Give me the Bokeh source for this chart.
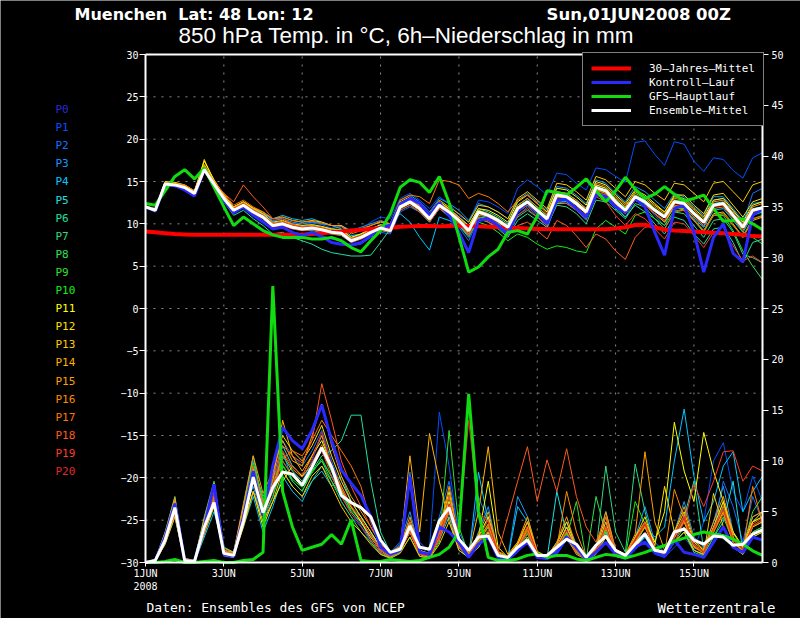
from bokeh.plotting import figure
from bokeh.models import Range1d, LinearAxis, FixedTicker, Label, Legend, LegendItem
from bokeh.embed import file_html
from bokeh.resources import INLINE

# ---------------- data ----------------
hours = list(range(0, 384, 6))  # forecast hours, 6-hourly
tick_hours = [0, 48, 96, 144, 192, 240, 288, 336]
tick_labels = ["1JUN\n2008", "3JUN", "5JUN", "7JUN", "9JUN", "11JUN", "13JUN", "15JUN"]
temp_ticks = [-30, -25, -20, -15, -10, -5, 0, 5, 10, 15, 20, 25, 30]
precip_ticks = [0, 5, 10, 15, 20, 25, 30, 35, 40, 45, 50]
member_names = ["P0", "P1", "P2", "P3", "P4", "P5", "P6", "P7", "P8", "P9", "P10",
                "P11", "P12", "P13", "P14", "P15", "P16", "P17", "P18", "P19", "P20"]
member_colors = ["#2a2ad8", "#0050ff", "#1870ff", "#1898ff", "#00c8ff", "#20e0e0", "#20e0a0",
                 "#30d880", "#30e050", "#30e030", "#10f010", "#ffff00", "#ffe000", "#ffc800",
                 "#ffb400", "#ffa000", "#ff8c00", "#ff7800", "#ff5a1e", "#ff3c28", "#e02828"]
legend_names = ["30–Jahres–Mittel", "Kontroll–Lauf", "GFS–Hauptlauf", "Ensemble–Mittel"]

temp_mean = [12.0,11.6,14.7,14.6,14.3,13.6,16.4,14.7,13.0,11.6,12.2,11.4,10.8,9.8,10.0,9.6,
             9.4,9.5,9.3,9.0,8.9,8.0,8.4,9.0,9.5,9.2,12.0,12.6,11.8,10.6,12.2,11.4,
             10.4,9.2,11.4,11.0,10.4,9.6,11.8,12.6,11.6,10.6,13.4,13.2,12.4,11.4,14.3,13.9,
             12.6,11.6,13.2,12.6,11.6,10.8,12.6,12.4,11.2,10.2,12.2,12.4,11.0,9.6,11.6,11.9]
temp_gfs = [12.4,12.2,13.9,15.6,16.4,15.3,16.6,14.3,12.0,9.8,10.8,10.0,9.2,8.7,8.4,8.4,
            8.4,8.2,8.2,8.4,8.0,7.2,6.7,8.0,9.2,11.2,14.3,15.2,14.9,13.7,15.6,12.5,
            8.5,4.3,4.9,6.1,7.0,9.0,9.2,8.8,10.9,13.9,13.7,13.4,14.3,15.3,13.9,12.6,
            13.9,15.5,14.1,13.0,13.5,14.4,13.5,12.7,13.0,13.4,11.8,10.3,10.4,10.6,10.0,9.3]
temp_ctrl = [12.0,11.5,14.6,14.5,14.0,13.3,16.5,14.5,12.8,11.3,12.0,11.0,10.2,9.4,9.6,9.0,
             8.6,9.0,8.5,7.8,7.6,7.5,7.8,8.6,9.6,9.8,12.3,13.0,12.4,11.0,12.5,11.0,
             9.0,6.6,10.4,10.6,9.8,8.8,11.5,12.6,11.4,10.0,12.8,12.9,11.8,10.8,13.4,13.2,
             12.0,11.4,13.0,12.0,9.0,6.3,11.8,12.2,9.0,4.3,8.4,10.0,6.5,5.5,11.0,11.8]
temp_clim = [9.1,9.0,8.9,8.8,8.75,8.7,8.7,8.7,8.7,8.7,8.7,8.7,8.7,8.7,8.7,8.7,
             8.7,8.8,8.9,9.0,9.1,9.2,9.3,9.4,9.5,9.55,9.65,9.7,9.75,9.75,9.7,9.75,
             9.8,9.75,9.7,9.65,9.6,9.55,9.5,9.45,9.4,9.4,9.35,9.35,9.35,9.35,9.35,9.35,
             9.45,9.6,9.85,9.9,9.6,9.3,9.2,9.15,9.1,9.0,8.95,8.9,8.8,8.7,8.55,8.5]

precip_mean = [0,0.2,2.2,5.4,0.2,0.1,3.5,5.9,0.9,0.7,4.1,8.4,4.9,7.4,8.9,8.7,
               7.6,9.4,11.3,9.4,6.6,5.9,5.4,4.5,2.2,1.0,1.3,3.6,1.5,1.3,4.1,5.4,
               2.3,1.2,2.5,2.6,0.7,0.5,1.5,2.2,0.7,0.7,1.5,2.3,1.8,0.5,1.7,2.6,
               1.2,0.7,1.8,2.8,1.2,1.0,3.0,3.3,2.2,1.8,2.6,2.5,1.7,1.8,2.8,3.2]
precip_gfs = [0,0,0.1,0.3,0,0,0.1,0.2,0,0,0.2,0.3,1.0,27.2,7.0,3.5,
              1.2,1.5,1.8,2.75,1.8,4.2,0.2,0.1,0.1,0.3,0.2,0.1,0.2,0.5,0.8,1.5,
              3.0,16.6,5.0,0.5,0.2,0.2,0.35,0.7,0.85,0.5,0.7,0.7,0.35,0.2,0.5,0.8,
              0.7,0.45,0.7,1.0,1.35,1.67,2.1,2.4,2.75,3.0,2.8,2.65,2.3,1.8,1.15,0.7]
precip_ctrl = [0,0.2,2.5,5.8,0.2,0.1,3.5,7.7,0.8,0.6,4.5,9.0,4.6,9.5,13.3,12.0,
               11.2,13.0,15.5,12.0,9.1,7.8,6.6,4.5,1.5,0.8,1.2,8.4,1.0,0.8,3.5,3.0,
               2.0,0.5,1.8,2.5,0.5,0.3,1.2,2.0,0.5,0.4,1.0,2.5,1.5,0.3,1.0,2.0,
               0.8,0.5,1.5,2.0,1.0,0.6,2.2,1.0,0.8,0.5,2.0,3.5,1.5,1.0,2.5,2.2]

t_p1 = [12.1,11.7,14.9,14.8,14.5,13.8,16.8,15.0,13.3,11.9,12.6,11.8,11.2,10.3,10.6,10.2,
        9.8,10.1,9.9,9.5,9.6,9.0,9.4,10.2,10.8,10.6,13.0,13.6,12.8,11.8,13.2,12.4,
        11.0,10.2,12.8,12.6,12.0,11.2,14.2,15.2,14.4,13.4,16.0,15.8,14.8,14.0,16.6,16.4,
        15.6,14.9,19.6,19.8,18.2,16.9,19.7,19.4,17.4,16.2,17.8,17.6,16.3,15.4,17.8,18.4]
t_p2 = [12.0,11.5,14.5,14.4,14.1,13.4,16.2,14.4,12.8,11.4,12.0,11.2,10.4,9.4,9.6,9.0,
        8.8,9.0,8.6,8.2,8.0,7.4,7.6,8.4,9.0,8.8,11.4,12.0,11.4,10.2,11.8,10.8,
        9.6,8.0,10.6,10.4,9.8,8.6,11.0,12.0,11.0,9.4,12.6,12.6,11.6,10.4,13.6,13.4,
        12.2,10.8,12.8,12.4,11.0,9.8,12.4,12.4,11.2,9.6,12.8,13.0,11.6,10.0,13.6,14.2]
t_p3 = [12.1,11.8,14.9,14.7,14.5,13.9,16.6,15.0,13.4,12.0,12.6,11.8,11.4,10.4,10.6,10.2,
        10.0,10.2,10.0,9.8,9.8,9.2,9.6,10.0,10.4,10.0,12.8,13.4,12.6,11.4,13.0,12.4,
        11.6,10.4,12.4,12.0,11.4,10.6,12.8,13.6,12.6,11.6,14.4,14.2,13.4,12.4,15.2,14.8,
        13.6,12.6,14.4,13.8,12.8,11.8,13.6,13.2,12.0,11.0,13.2,13.2,11.8,10.4,12.4,12.6]
t_p4 = [11.9,11.6,14.6,14.5,14.2,13.5,16.3,14.6,12.9,11.6,12.3,11.6,11.2,10.6,11.0,10.6,
        10.4,10.6,10.2,9.8,9.4,8.6,8.8,9.4,9.8,10.0,11.2,10.2,8.4,6.9,10.8,10.4,
        9.8,8.6,10.8,10.6,10.0,9.2,11.4,12.2,11.2,10.0,12.8,12.6,11.8,10.8,13.8,13.4,
        12.2,11.2,12.8,12.2,11.2,10.4,12.0,11.8,10.6,9.6,11.6,11.8,10.4,9.0,11.0,11.4]
t_p5 = [12.0,11.7,14.8,14.6,14.4,13.7,16.5,14.8,13.1,11.8,12.4,11.6,11.0,10.0,10.2,9.8,
        9.6,9.8,9.6,9.4,9.2,8.4,8.8,9.4,9.8,9.6,12.4,13.0,12.2,11.0,12.6,11.8,
        10.8,9.8,11.8,11.4,10.8,10.0,12.2,13.0,12.0,11.0,13.8,13.6,12.8,11.8,14.6,14.2,
        12.8,11.8,13.4,12.8,11.8,11.0,12.8,12.6,11.4,10.4,12.4,12.6,11.2,9.8,11.8,12.0]
t_p6 = [11.9,11.5,14.5,14.4,14.2,13.5,16.2,14.4,12.6,11.0,11.6,10.6,9.8,8.8,9.0,8.4,
        8.0,7.6,7.0,6.6,6.4,6.2,6.2,6.3,7.8,9.4,11.6,12.2,11.4,10.2,11.8,11.0,
        9.8,8.4,10.6,10.2,9.4,8.4,10.4,11.2,10.4,9.6,12.4,12.4,11.6,10.6,13.4,13.0,
        11.8,10.8,12.2,11.4,10.0,8.8,10.8,10.4,8.8,7.6,9.4,9.6,7.8,5.4,7.8,8.2]
t_p7 = [12.0,11.6,14.7,14.6,14.3,13.6,16.4,14.7,13.0,11.6,12.2,11.4,10.6,9.6,9.8,9.4,
        9.2,9.2,9.0,8.8,8.6,7.8,8.2,8.8,9.2,9.0,11.8,12.4,11.6,10.4,12.0,11.2,
        10.0,8.6,10.8,10.6,10.0,9.0,10.8,11.6,10.8,9.8,12.2,12.0,11.2,10.0,12.8,12.6,
        11.6,10.6,12.4,12.0,10.6,9.4,11.4,11.2,9.8,8.4,10.4,10.6,9.0,6.4,6.0,5.4]
t_p8 = [11.9,11.5,14.6,14.5,14.2,13.5,16.3,14.6,12.9,11.5,12.1,11.3,10.7,9.7,9.9,9.5,
        9.3,9.4,9.2,8.9,8.8,7.9,8.3,8.9,9.4,9.1,11.9,12.5,11.7,10.5,12.1,11.3,
        10.2,8.8,11.0,10.8,10.2,9.2,11.4,12.2,11.4,10.4,13.2,13.0,12.2,11.2,14.0,13.8,
        12.6,11.4,13.0,12.4,11.2,10.2,12.0,11.8,10.4,9.0,11.0,11.0,9.2,6.8,5.0,3.4]
t_p9 = [12.0,11.6,14.8,14.7,14.4,13.7,16.5,14.8,13.1,11.7,12.3,11.5,10.9,9.9,10.1,9.7,
        9.5,9.6,9.4,9.1,9.0,8.1,8.5,9.1,9.6,9.3,12.1,12.7,11.9,10.7,12.3,11.5,
        10.6,9.6,11.6,11.2,10.6,9.8,12.0,12.8,11.8,10.8,13.6,13.4,12.6,11.6,14.4,14.0,
        12.8,11.8,13.4,12.8,11.8,11.0,12.8,12.6,11.4,10.4,12.2,12.2,10.8,9.0,8.4,7.6]
t_p10 = [12.1,11.7,14.8,14.7,14.4,13.7,16.6,14.9,13.2,11.8,12.4,11.6,11.0,10.0,10.2,9.8,
         9.6,9.7,9.5,9.2,9.1,8.2,8.6,9.2,9.7,9.4,12.2,12.8,12.0,10.8,12.4,11.6,
         10.4,8.8,10.2,9.8,9.0,8.0,8.8,8.4,7.6,7.0,7.4,7.2,6.8,6.6,9.4,10.4,
         9.6,8.8,11.0,11.4,10.6,9.8,11.6,11.6,10.4,9.2,11.0,11.2,9.8,8.6,10.6,11.0]
t_p11 = [12.1,11.7,15.0,14.9,14.6,13.9,17.4,15.2,13.4,12.0,12.6,11.8,11.2,10.2,10.4,10.0,
         9.8,9.9,9.7,9.4,9.3,8.4,8.8,9.4,9.9,9.6,12.4,13.0,12.2,11.0,12.6,11.8,
         10.8,9.8,11.8,11.6,11.0,10.2,12.6,13.4,12.4,11.4,14.2,14.0,13.2,12.2,15.0,14.6,
         13.4,12.4,14.0,13.4,12.4,11.4,13.2,13.0,11.8,10.8,12.8,13.0,11.6,10.2,12.2,12.6]
t_p12 = [12.0,11.6,14.8,14.6,14.4,13.7,17.6,15.0,13.2,11.7,12.3,11.5,10.9,9.9,10.1,9.7,
         9.5,9.6,9.4,9.1,9.0,8.1,8.5,9.1,9.6,9.3,12.2,12.8,12.0,10.8,12.4,11.6,
         10.6,9.4,11.4,11.0,10.4,9.4,11.8,12.6,11.6,10.6,13.6,13.4,12.6,11.6,14.6,14.2,
         13.0,12.0,13.8,13.2,12.2,11.4,13.4,13.4,12.2,11.2,13.4,13.6,12.2,10.8,12.6,13.0]
t_p13 = [12.1,11.7,14.9,14.8,14.5,13.8,17.0,15.1,13.4,12.0,12.6,11.9,11.4,10.6,10.8,10.4,
         10.2,10.4,10.2,9.8,9.8,9.0,9.4,9.8,10.2,10.0,12.6,13.2,12.4,11.2,12.8,12.0,
         11.2,10.2,12.2,12.0,11.4,10.6,13.0,13.8,12.8,11.8,14.8,14.6,13.8,12.8,15.6,15.2,
         14.2,13.2,15.0,14.6,13.6,12.8,14.8,14.6,13.6,12.6,14.8,15.0,13.8,12.6,14.6,15.0]
t_p14 = [12.0,11.6,14.7,14.6,14.3,13.6,16.9,14.9,13.1,11.6,12.2,11.4,10.8,9.8,10.0,9.6,
         9.4,9.5,9.3,9.0,8.9,8.0,8.4,9.0,9.5,9.2,11.8,12.4,11.6,10.4,12.0,11.2,
         10.2,9.0,11.2,10.8,10.2,9.4,11.6,12.4,11.4,10.4,13.2,13.0,12.2,11.2,14.0,13.6,
         12.4,11.2,12.8,12.2,11.2,10.2,12.0,11.6,10.4,9.2,11.2,11.4,10.0,8.4,10.4,10.8]
t_p15 = [11.9,11.5,14.6,14.5,14.2,13.5,16.6,14.7,13.0,11.6,12.2,11.4,10.8,9.8,10.0,9.6,
         9.4,9.5,9.3,9.0,8.9,8.0,8.4,9.0,9.5,9.2,12.0,12.6,11.8,10.6,12.2,11.4,
         10.4,9.2,11.4,11.0,10.4,9.6,11.8,12.6,11.6,10.6,13.4,13.2,12.4,11.4,14.2,13.8,
         12.6,11.6,13.2,12.6,11.6,10.8,12.6,12.4,11.2,10.2,12.2,12.4,11.0,9.6,11.6,11.9]
t_p16 = [12.0,11.7,14.8,14.7,14.4,13.7,16.5,14.8,13.2,11.9,12.5,11.7,11.1,10.1,10.3,9.9,
         9.7,9.8,9.6,9.3,9.2,8.3,8.7,9.3,9.8,9.5,12.3,12.9,12.1,10.9,12.5,11.7,
         10.8,9.6,11.6,11.2,10.6,9.8,12.2,13.0,12.0,11.0,13.8,13.6,12.8,11.8,14.8,14.4,
         13.2,12.2,13.6,13.0,12.0,11.2,13.0,12.8,11.6,10.6,12.6,12.8,11.4,10.0,12.0,12.4]
t_p17 = [12.1,11.8,14.9,14.8,14.6,13.9,16.8,15.0,13.6,12.2,12.8,12.0,11.4,10.6,10.8,10.4,
         10.2,10.3,10.1,9.8,9.7,8.8,9.2,9.8,10.3,10.0,12.8,13.4,13.2,12.4,15.2,15.0,
         14.6,13.0,13.6,13.2,12.4,11.4,12.8,13.4,12.4,11.2,13.6,13.2,12.4,11.4,14.0,13.6,
         12.4,11.4,12.8,12.2,11.2,10.4,12.2,12.0,10.8,9.8,11.8,12.0,10.6,9.2,11.2,11.6]
t_p18 = [12.0,11.6,14.6,14.5,14.2,13.5,16.3,14.9,13.6,12.6,14.6,13.2,12.0,10.6,10.6,10.0,
         9.6,9.6,9.4,9.1,9.0,8.1,8.5,9.1,9.6,9.3,12.0,12.6,11.8,10.6,12.2,11.4,
         10.2,8.8,10.6,10.2,9.6,8.6,9.8,10.2,9.2,8.2,10.4,9.8,8.6,7.2,8.8,8.2,
         6.8,5.8,8.4,9.6,9.8,9.4,11.4,11.6,10.4,9.2,11.0,11.2,9.8,8.4,10.6,10.9]
t_p19 = [12.0,11.6,14.6,14.5,14.2,13.5,16.2,14.5,12.8,11.4,12.0,11.2,10.6,9.6,9.8,9.4,
         9.2,9.3,9.1,8.8,8.7,7.8,8.2,8.8,9.3,9.0,11.6,12.2,11.4,10.2,11.8,11.0,
         10.0,8.6,10.8,10.4,9.8,8.8,11.0,11.8,10.8,9.8,12.6,12.4,11.6,10.6,13.2,12.6,
         11.0,9.8,11.2,10.6,9.4,8.2,10.2,10.0,8.6,7.2,9.0,9.0,7.4,5.6,6.2,5.4]
t_p20 = [12.1,11.7,14.8,14.7,14.4,13.7,16.5,14.8,13.2,11.8,12.4,11.6,11.0,10.0,10.2,9.8,
         9.6,9.7,9.5,9.2,9.1,8.2,8.6,9.2,9.7,9.4,12.2,12.8,12.0,10.8,12.4,11.6,
         10.6,9.4,11.2,10.8,10.2,9.2,11.4,12.2,11.2,10.2,13.0,12.8,12.0,11.0,13.8,13.4,
         12.2,11.2,12.8,12.2,11.2,10.4,12.4,12.2,11.0,10.0,12.0,12.2,10.8,9.4,11.4,11.8]

pr_p1 = [0,0.1,2.0,5.5,0.1,0,3.0,6.5,0.6,0.5,4.0,8.0,5.0,7.0,10.5,9.0,
         8.0,10.0,12.5,9.0,6.0,4.5,3.5,2.0,1.0,0.5,1.0,3.5,0.8,1.5,14.8,9.5,
         2.5,0.8,2.0,3.0,0.4,0.2,1.0,2.5,0.6,0.3,0.8,2.2,1.0,0.2,0.8,3.0,
         0.6,0.3,1.2,2.5,0.8,0.5,1.5,2.5,1.2,4.0,10.0,11.8,7.0,5.0,8.5,6.0]
pr_p2 = [0,0.3,2.8,6.2,0.3,0.1,4.0,7.0,1.0,0.8,5.5,10.0,6.0,8.0,12.0,10.5,
         9.5,11.0,13.0,10.0,7.5,5.5,4.0,2.5,1.2,0.6,1.5,8.9,2.0,1.0,4.5,8.0,
         3.0,1.0,6.5,4.0,0.8,0.4,1.5,3.0,0.8,0.5,1.5,3.5,1.5,0.4,1.2,4.0,
         1.0,0.5,2.0,3.0,1.2,0.8,2.5,3.5,1.5,1.0,3.0,8.0,5.5,2.0,6.5,4.0]
pr_p3 = [0,0.2,2.2,4.8,0.2,0,3.2,6.0,1.5,1.0,4.8,7.5,4.0,6.5,11.0,8.0,
         7.0,9.0,10.0,8.5,6.5,5.0,3.8,2.8,1.5,1.0,2.0,5.0,1.2,0.8,2.8,6.0,
         1.5,0.6,3.0,5.5,1.0,0.5,6.5,4.5,1.0,0.6,2.0,4.0,1.8,0.5,1.5,5.0,
         1.2,0.8,2.5,5.5,2.0,1.0,3.0,6.0,2.5,1.5,4.0,7.5,3.0,1.5,4.5,5.0]
pr_p4 = [0,0.1,1.8,4.5,0.1,0,2.5,5.0,1.2,0.8,3.5,6.5,3.0,5.5,8.5,7.0,
         6.0,8.0,9.0,7.5,8.5,6.0,4.5,3.0,1.5,0.8,1.8,4.0,1.0,0.6,2.5,5.0,
         1.5,0.5,8.9,4.0,0.6,0.4,5.5,4.0,1.0,0.5,1.5,3.5,1.2,0.3,1.0,3.5,
         0.8,0.6,2.0,3.5,2.5,3.5,10.0,15.1,8.5,4.0,6.0,9.5,10.9,5.0,7.0,8.5]
pr_p5 = [0,0.2,2.4,5.2,0.2,0.1,3.6,6.8,0.9,0.7,4.2,8.5,5.5,7.5,11.5,9.5,
         8.5,9.5,11.0,9.0,7.0,5.5,4.0,2.2,1.0,0.5,1.2,3.0,0.8,0.6,2.2,4.5,
         1.2,0.5,1.5,3.0,0.6,0.3,1.2,2.5,0.6,0.4,7.0,2.8,1.0,0.3,1.0,3.0,
         0.7,0.4,1.5,2.5,1.0,0.6,2.0,3.0,1.2,0.8,2.5,4.0,8.0,1.0,3.0,3.5]
pr_p6 = [0,0.2,2.6,5.6,0.3,0.2,4.2,7.2,1.2,1.0,5.0,9.5,6.5,8.5,10.0,8.5,
         7.5,9.0,10.5,11.0,12.0,14.5,14.5,8.0,3.0,1.0,1.5,4.0,1.0,0.8,3.0,6.5,
         2.0,0.8,2.5,4.5,1.0,0.5,1.8,3.5,0.8,0.5,1.5,3.0,1.2,0.4,1.2,3.5,
         1.0,0.6,2.0,3.5,1.5,0.8,2.5,4.5,8.0,1.2,3.5,6.0,2.5,1.5,4.0,4.5]
pr_p7 = [0,0.3,3.0,6.5,0.4,0.2,4.5,8.0,1.5,1.0,5.5,10.5,5.5,7.0,9.0,7.5,
         6.5,8.0,9.5,8.0,6.5,5.5,4.5,3.0,1.5,0.8,1.5,3.5,1.0,0.8,2.5,5.0,
         1.5,0.6,2.0,3.5,0.8,0.5,1.5,3.0,0.8,0.5,1.5,3.0,1.0,0.4,1.2,9.5,
         3.0,1.0,9.7,5.0,1.5,0.8,2.0,3.0,1.0,0.6,2.0,3.5,1.5,0.8,2.5,3.0]
pr_p8 = [0,0.2,2.5,5.8,0.2,0.1,3.8,6.5,1.0,0.7,4.5,9.0,5.0,7.5,10.5,9.0,
         8.0,9.5,11.0,9.0,7.0,5.0,4.0,2.5,1.2,0.7,1.2,3.0,0.8,0.6,2.5,6.0,
         1.8,0.6,2.0,3.5,0.8,0.4,1.5,3.0,0.8,0.5,1.2,2.5,1.0,0.3,6.5,2.8,
         0.8,0.5,1.8,3.5,1.2,0.7,2.5,4.0,1.5,1.0,3.0,5.5,3.0,1.5,5.0,6.5]
pr_p9 = [0,0.1,2.0,5.0,0.1,0,3.0,6.0,0.8,0.5,4.0,8.0,4.5,6.5,9.5,8.0,
         7.0,9.0,10.0,8.0,6.0,4.5,3.0,2.0,0.8,0.5,1.0,2.5,0.6,0.5,2.0,13.0,
         3.5,0.8,1.8,3.0,0.6,0.3,1.2,2.8,0.6,0.4,1.2,2.5,6.0,0.3,1.0,2.5,
         0.6,0.4,1.5,3.0,1.0,0.6,2.0,3.5,1.2,0.7,2.5,4.5,2.0,1.0,3.0,3.5]
pr_p10 = [0,0.2,2.2,5.3,0.2,0.1,3.3,6.2,1.0,0.8,4.8,9.8,6.2,8.2,9.6,8.2,
          7.4,8.8,10.2,8.4,6.8,5.2,4.2,2.6,1.3,0.8,1.3,3.2,0.9,0.7,2.4,5.2,
          1.6,0.6,2.2,3.8,0.8,0.4,1.6,3.2,0.8,0.5,1.4,2.8,1.0,0.4,1.2,3.2,
          0.9,0.6,6.0,3.8,1.4,0.8,2.6,4.2,1.6,1.0,3.2,5.0,2.2,1.2,3.5,4.0]
pr_p11 = [0,0.2,2.0,4.8,0.2,0,3.0,5.8,0.8,0.6,3.8,7.0,3.5,6.0,8.0,9.5,
          8.5,10.5,12.0,9.5,7.5,5.5,4.0,2.5,1.2,0.6,1.2,3.0,0.8,0.5,2.5,6.0,
          1.5,0.6,2.5,8.0,1.5,0.5,1.8,3.5,0.8,0.5,1.5,3.5,1.2,0.4,1.2,3.5,
          1.0,0.6,2.5,4.0,2.0,5.0,13.8,9.0,6.0,12.8,9.0,6.0,3.0,1.5,4.0,5.0]
pr_p12 = [0,0.3,2.7,6.0,0.3,0.1,4.0,7.5,1.2,0.9,5.2,9.2,5.8,8.8,12.5,11.0,
          10.0,11.5,13.5,10.5,8.0,6.0,4.5,3.0,1.5,0.8,1.5,4.0,1.0,0.7,3.0,7.0,
          2.0,0.8,2.5,4.5,1.0,0.5,1.8,4.0,1.0,0.6,1.8,4.0,1.4,0.5,1.4,4.5,
          1.2,0.7,2.5,4.5,1.6,7.5,3.0,5.0,2.0,1.2,3.5,6.0,2.5,1.5,4.0,4.5]
pr_p13 = [0,0.1,1.8,4.5,0.1,0,2.8,5.5,0.7,0.5,3.5,7.0,4.0,6.0,9.0,7.5,
          6.5,8.5,9.5,7.5,5.5,4.0,3.0,1.8,0.8,0.4,0.9,2.5,0.6,0.4,1.8,4.0,
          1.2,0.5,1.5,3.0,0.6,0.3,1.2,2.5,0.6,0.4,1.0,2.5,0.8,0.3,0.8,2.5,
          0.6,0.4,1.4,2.8,1.0,0.6,2.0,3.0,1.2,0.8,6.8,3.5,1.5,0.8,2.5,3.0]
pr_p14 = [0,0.2,2.4,5.5,0.2,0.1,3.6,7.0,1.0,0.7,4.5,8.8,5.2,8.0,14.0,10.5,
          9.0,10.5,12.5,9.5,7.2,5.5,4.2,2.6,1.2,0.7,1.4,10.5,3.0,12.7,8.0,4.0,
          1.5,0.8,5.0,11.4,3.0,0.8,2.0,4.0,1.0,0.5,1.5,3.5,1.2,0.4,1.2,4.0,
          1.0,0.6,2.0,3.5,1.4,0.8,2.5,4.0,1.6,1.0,3.0,5.0,2.0,1.2,3.5,4.0]
pr_p15 = [0,0.3,2.9,6.4,0.4,0.2,4.3,7.8,1.4,1.0,5.8,10.5,6.8,9.0,12.0,10.0,
          9.5,12.5,15.6,11.5,8.5,6.5,5.0,3.5,1.8,1.0,1.6,4.5,1.2,0.9,3.2,7.5,
          2.2,0.9,2.8,5.0,1.1,0.6,2.0,4.5,1.1,0.6,2.0,4.5,1.5,0.5,1.5,5.0,
          1.3,0.8,2.8,10.9,4.0,1.2,3.0,5.5,2.2,1.3,4.0,6.5,2.8,1.6,4.5,5.0]
pr_p16 = [0,0.2,2.3,5.4,0.2,0.1,3.5,6.6,1.1,0.8,4.6,8.6,5.2,7.6,10.8,9.2,
          8.4,9.8,11.6,9.2,7.2,5.4,4.2,2.7,1.3,0.7,1.3,3.4,0.9,0.7,2.6,5.6,
          1.7,0.7,2.2,3.8,0.9,0.5,1.6,3.4,0.9,0.5,1.5,7.0,3.0,0.5,1.3,3.6,
          1.0,0.6,2.2,3.8,1.4,0.8,7.2,4.4,1.7,1.0,3.2,5.2,2.2,1.3,3.6,4.2]
pr_p17 = [0,0.1,2.1,5.0,0.1,0,3.2,6.2,0.9,0.6,4.2,8.2,4.8,7.2,10.2,11.0,
          10.5,12.0,14.0,12.5,11.0,9.5,7.5,4.0,1.5,0.8,1.2,3.2,0.8,0.6,2.4,5.4,
          1.6,0.6,2.0,3.6,0.8,0.4,1.4,3.2,0.8,0.5,1.4,3.0,1.1,0.4,1.1,3.4,
          0.9,0.5,2.0,3.6,1.3,0.7,2.4,4.2,1.5,0.9,3.0,4.8,2.0,1.1,7.5,3.8]
pr_p18 = [0,0.2,2.6,5.9,0.3,0.1,3.9,7.3,1.2,0.9,5.0,9.5,5.8,8.5,11.5,10.5,
          9.8,12.0,17.6,14.0,10.0,7.5,5.5,3.5,1.8,1.0,1.6,4.0,1.1,0.8,2.9,6.5,
          2.0,0.8,2.4,4.2,1.0,4.5,8.0,11.4,6.0,10.1,7.0,11.2,6.5,3.5,2.0,4.5,
          1.2,0.7,2.4,4.0,1.5,0.9,2.8,4.6,1.8,1.1,3.4,5.6,2.4,1.4,3.8,4.4]
pr_p19 = [0,0.1,2.0,4.8,0.1,0,3.0,6.0,0.8,0.6,4.0,8.0,4.5,7.0,10.0,8.5,
          7.5,9.5,11.0,8.5,6.5,4.8,3.6,2.2,1.0,0.6,1.1,3.0,0.8,0.6,2.3,5.0,
          1.5,0.6,1.8,3.2,0.7,0.4,1.3,3.0,0.7,0.4,1.2,2.6,0.9,0.3,1.0,2.8,
          0.7,0.4,1.6,3.0,1.0,0.6,2.0,4.0,7.7,5.5,8.0,10.9,11.0,8.0,9.5,9.0]
pr_p20 = [0,0.2,2.3,5.5,0.2,0.1,3.4,6.8,1.0,0.7,4.4,8.8,5.0,7.8,11.0,9.4,
          8.6,10.2,12.8,9.6,7.4,5.6,4.2,2.6,1.2,0.7,1.3,3.6,0.9,0.7,2.6,5.8,
          3.0,14.0,5.0,4.0,0.9,0.5,1.6,3.6,0.9,0.5,1.5,3.2,1.2,0.4,1.2,3.6,
          1.0,0.6,2.2,3.8,1.4,0.8,2.6,4.4,1.7,1.0,3.2,5.2,2.2,1.3,3.6,4.2]

member_temps = [t_p1, t_p2, t_p3, t_p4, t_p5, t_p6, t_p7, t_p8, t_p9, t_p10,
                t_p11, t_p12, t_p13, t_p14, t_p15, t_p16, t_p17, t_p18, t_p19, t_p20]
member_precs = [pr_p1, pr_p2, pr_p3, pr_p4, pr_p5, pr_p6, pr_p7, pr_p8, pr_p9, pr_p10,
                pr_p11, pr_p12, pr_p13, pr_p14, pr_p15, pr_p16, pr_p17, pr_p18, pr_p19, pr_p20]

# ---------------- geometry (page pixels) ----------------
W, H = 800, 618
FL, FR, FT, FB = 145, 762, 54, 562   # edges of the chart box
X_MAX = 378.0
T_MIN, T_MAX = -30.0, 30.0
P_MIN, P_MAX = 0.0, 50.0
kx = (FR - FL) / X_MAX
kt = (FB - FT) / (T_MAX - T_MIN)
kp = (FB - FT) / (P_MAX - P_MIN)

# The frame covers the whole canvas so that every annotation is visible;
# ranges are widened so the chart box lands at FL..FR / FT..FB.
p = figure(width=W, height=H, output_backend="svg", toolbar_location=None,
           x_range=Range1d(-FL / kx, X_MAX + (W - FR) / kx),
           y_range=Range1d(T_MIN - (H - FB) / kt, T_MAX + FT / kt),
           x_axis_location=None, y_axis_location=None,
           min_border=0, min_border_left=0, min_border_right=0,
           min_border_top=0, min_border_bottom=0,
           background_fill_color="black", border_fill_color="black",
           outline_line_color=None)
p.extra_y_ranges = {"precip": Range1d(P_MIN - (H - FB) / kp, P_MAX + FT / kp)}
p.xgrid.visible = False
p.ygrid.visible = False

def style_axis(ax, tick_out=6, standoff=1):
    ax.axis_line_color = "white"
    ax.axis_line_width = 2
    ax.major_tick_line_color = "white"
    ax.major_tick_line_width = 1
    ax.minor_tick_line_color = None
    ax.major_tick_out = tick_out
    ax.major_tick_in = 0
    ax.major_label_text_color = "white"
    ax.major_label_text_font = "DejaVu Sans Mono"
    ax.major_label_text_font_size = "10px"
    ax.major_label_standoff = standoff

# grid (dotted), drawn from the tick arrays
vg = tick_hours[1:]
hg = temp_ticks[1:-1]
p.segment(x0=vg, y0=[T_MIN] * len(vg), x1=vg, y1=[T_MAX] * len(vg),
          line_color="#8a8a8a", line_width=1, line_dash="2 6")
p.segment(x0=[0] * len(hg), y0=hg, x1=[X_MAX] * len(hg), y1=hg,
          line_color="#8a8a8a", line_width=1, line_dash="2 6")

# axes fixed at the chart box edges
lax = LinearAxis(fixed_location=0, bounds=(T_MIN, T_MAX), ticker=FixedTicker(ticks=temp_ticks))
lax.major_label_overrides = {t: ("\u2212" + str(-t) if t < 0 else str(t)) for t in temp_ticks}
style_axis(lax, tick_out=6, standoff=1)
p.add_layout(lax, "left")

rax = LinearAxis(y_range_name="precip", fixed_location=X_MAX, bounds=(P_MIN, P_MAX),
                 ticker=FixedTicker(ticks=precip_ticks))
style_axis(rax, tick_out=6, standoff=3)
p.add_layout(rax, "right")

bax = LinearAxis(fixed_location=T_MIN, bounds=(0, X_MAX), ticker=FixedTicker(ticks=tick_hours))
bax.major_label_overrides = {h: lab for h, lab in zip(tick_hours, tick_labels)}
style_axis(bax, tick_out=4, standoff=1)
p.add_layout(bax, "below")

tax = LinearAxis(fixed_location=T_MAX, bounds=(0, X_MAX), ticker=FixedTicker(ticks=[]))
style_axis(tax)
tax.major_label_text_color = None
p.add_layout(tax, "above")

# ensemble members (thin)
for i, (tv, pv) in enumerate(zip(member_temps, member_precs)):
    col = member_colors[i + 1]
    p.line(hours[:len(tv)], tv, line_color=col, line_width=1)
    p.line(hours[:len(pv)], pv, line_color=col, line_width=1, y_range_name="precip")

# highlighted runs
r_clim = p.line(hours[:len(temp_clim)], temp_clim, line_color="#ff0000", line_width=4)
r_ctrl = p.line(hours[:len(temp_ctrl)], temp_ctrl, line_color="#2a2aff", line_width=3)
p.line(hours[:len(precip_ctrl)], precip_ctrl, line_color="#2a2aff", line_width=3, y_range_name="precip")
r_gfs = p.line(hours[:len(temp_gfs)], temp_gfs, line_color="#10dc10", line_width=3)
p.line(hours[:len(precip_gfs)], precip_gfs, line_color="#10dc10", line_width=3, y_range_name="precip")
r_mean = p.line(hours[:len(temp_mean)], temp_mean, line_color="white", line_width=3)
p.line(hours[:len(precip_mean)], precip_mean, line_color="white", line_width=3, y_range_name="precip")

LEG_W, LEG_H = 180, 72
legend = Legend(items=[LegendItem(label=legend_names[0], renderers=[r_clim]),
                       LegendItem(label=legend_names[1], renderers=[r_ctrl]),
                       LegendItem(label=legend_names[2], renderers=[r_gfs]),
                       LegendItem(label=legend_names[3], renderers=[r_mean])],
                location=(FR - LEG_W, H - FT - LEG_H), margin=0, padding=8, spacing=0,
                glyph_width=40, glyph_height=14, label_height=14, label_standoff=18,
                border_line_color="white", border_line_width=1,
                background_fill_color="black", background_fill_alpha=1.0,
                label_text_color="white", label_text_font="DejaVu Sans Mono",
                label_text_font_size="11px")
p.add_layout(legend)

def page_label(px, py, text, color="white", size="11px", font="DejaVu Sans Mono",
               align="left", style="normal"):
    p.add_layout(Label(x=px, y=H - py, x_units="screen", y_units="screen",
                       text=text, text_color=color, text_font_size=size, text_font=font,
                       text_align=align, text_baseline="middle", text_font_style=style))

# member name column
for i, name in enumerate(member_names):
    page_label(55, 109 + 18.1 * i, name, color=member_colors[i], size="11px")

# titles and footer
page_label(74, 14, "Muenchen\u00a0 Lat: 48 Lon: 12", size="16px", font="DejaVu Sans", style="bold")
page_label(546, 14, "Sun,01JUN2008 00Z", size="16.5px", font="DejaVu Sans", style="bold")
page_label(178, 35, "850 hPa Temp. in °C, 6h–Niederschlag in mm", size="22.5px", font="Liberation Sans")
page_label(146, 607, "Daten: Ensembles des GFS von NCEP", size="13px")
page_label(775, 607, "Wetterzentrale", size="14px", align="right")

open("out.html", "w").write(file_html(p, INLINE, title="GFS Ensemble Muenchen"))
